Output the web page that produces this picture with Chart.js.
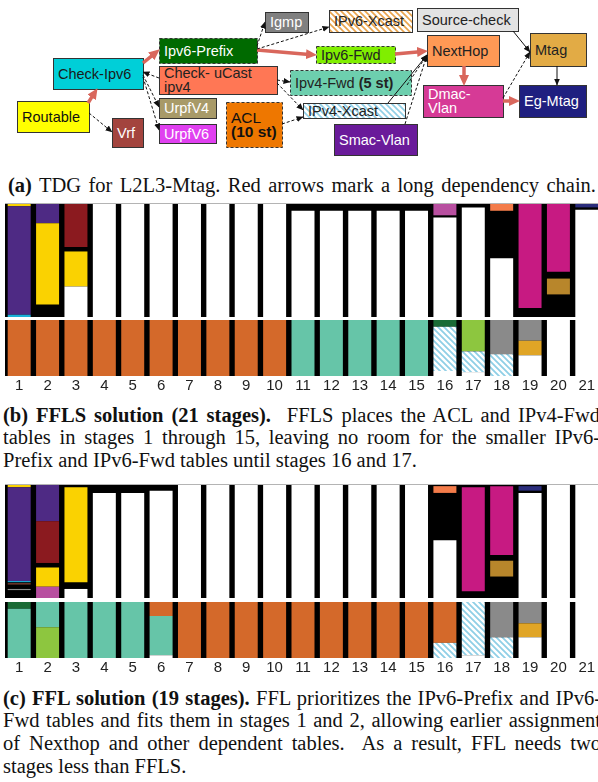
<!DOCTYPE html>
<html>
<head>
<meta charset="utf-8">
<script src="https://cdn.jsdelivr.net/npm/chart.js@4.4.1/dist/chart.umd.min.js"></script>
<style>
html, body { margin: 0; padding: 0; background: #fff; }
body { width: 598px; height: 782px; overflow: hidden; position: relative; }
.cap { position: absolute; font-family: 'Liberation Serif', 'Times New Roman', serif; font-size: 20.5px; line-height: 22.7px; color: #111; white-space: nowrap; }
.cap div { height: 22.7px; }
.cap .fit { display: inline-block; }
.rule { position: absolute; left: 5px; width: 593px; height: 1px; background: #b4b4b4; }
canvas { position: absolute; left: 5px; }
#tdg { position: absolute; left: 0; top: 0; }
</style>
</head>
<body>

<svg id="tdg" width="598" height="162"></svg>

<div class="cap" style="left:8px; top:173.6px">
  <div><span class="fit" data-w="588"><b>(a)</b> TDG for L2L3-Mtag. Red arrows mark a long dependency chain.</span></div>
</div>

<div class="rule" style="top:203px"></div>
<canvas id="fflsTop" width="596" height="113" style="top:204px"></canvas>
<canvas id="fflsBottom" width="596" height="76" style="top:320px"></canvas>

<div class="cap" style="left:3px; top:403.6px">
  <div><span class="fit" data-w="597"><b>(b) FFLS solution (21 stages).</b>&nbsp; FFLS places the ACL and IPv4-Fwd</span></div>
  <div><span class="fit" data-w="597">tables in stages 1 through 15, leaving no room for the smaller IPv6-</span></div>
  <div><span>Prefix and IPv6-Fwd tables until stages 16 and 17.</span></div>
</div>

<div class="rule" style="top:484px"></div>
<canvas id="fflTop" width="596" height="113" style="top:485px"></canvas>
<canvas id="fflBottom" width="596" height="76" style="top:602px"></canvas>

<div class="cap" style="left:3px; top:686.6px">
  <div><span class="fit" data-w="598"><b>(c) FFL solution (19 stages).</b> FFL prioritizes the IPv6-Prefix and IPv6-</span></div>
  <div><span class="fit" data-w="598">Fwd tables and fits them in stages 1 and 2, allowing earlier assignment</span></div>
  <div><span class="fit" data-w="598">of Nexthop and other dependent tables.&nbsp; As a result, FFL needs two</span></div>
  <div><span>stages less than FFLS.</span></div>
</div>

<script>
// Stage labels (x axis)
const stages = ['1', '2', '3', '4', '5', '6', '7', '8', '9', '10', '11',
                '12', '13', '14', '15', '16', '17', '18', '19', '20', '21'];

// Each stage: segments from bottom to top, as % of the stage's memory.
// 'free' = unused (white), 'gap' = unusable (black background)
const fflsTcam = [
    [['Check-Ipv6', 2], ['Smac-Vlan', 96], ['Routable', 2]],
    [['gap', 11], ['Routable', 72], ['Smac-Vlan', 17]],
    [['free', 27], ['Routable', 31], ['gap', 4], ['Vrf', 38]],
    [['free', 100]],
    [['free', 100]],
    [['free', 100]],
    [['free', 100]],
    [['free', 100]],
    [['free', 100]],
    [['free', 100]],
    [['free', 94], ['gap', 6]],
    [['free', 94], ['gap', 6]],
    [['free', 94], ['gap', 6]],
    [['free', 94], ['gap', 6]],
    [['free', 94], ['gap', 6]],
    [['free', 88], ['gap', 2], ['UrpfV6', 10]],
    [['free', 97], ['gap', 3]],
    [['free', 52], ['gap', 42], ['NextHop', 6]],
    [['gap', 8], ['Dmac-Vlan', 92]],
    [['gap', 20], ['Mtag', 14], ['gap', 6], ['Dmac-Vlan', 60]],
    [['free', 95], ['gap', 2], ['Eg-Mtag', 3]]
];

const fflsSram = [
    [['ACL', 100]],
    [['ACL', 100]],
    [['ACL', 100]],
    [['ACL', 100]],
    [['ACL', 100]],
    [['ACL', 100]],
    [['ACL', 100]],
    [['ACL', 100]],
    [['ACL', 100]],
    [['ACL', 100]],
    [['Ipv4-Fwd', 100]],
    [['Ipv4-Fwd', 100]],
    [['Ipv4-Fwd', 100]],
    [['Ipv4-Fwd', 100]],
    [['Ipv4-Fwd', 100]],
    [['free', 9], ['IPv4-Xcast', 79], ['Ipv6-Prefix', 12]],
    [['free', 7], ['IPv4-Xcast', 37], ['Ipv6-Fwd', 56]],
    [['IPv4-Xcast', 39], ['Igmp', 61]],
    [['free', 37], ['IPv6-Xcast', 26], ['Igmp', 37]],
    [['free', 100]],
    [['free', 100]]
];

const fflTcam = [
    [['gap', 7], ['Source-check', 1], ['gap', 4], ['Check-uCast', 1], ['gap', 1],
     ['Check-Ipv6', 1], ['Smac-Vlan', 83], ['Routable', 2]],
    [['UrpfV6', 10], ['Routable', 17], ['gap', 4], ['Vrf', 37], ['Smac-Vlan', 32]],
    [['free', 8], ['gap', 6], ['Routable', 84], ['gap', 2]],
    [['free', 93], ['gap', 7]],
    [['free', 93], ['gap', 7]],
    [['free', 95], ['gap', 5]],
    [['free', 100]],
    [['free', 100]],
    [['free', 100]],
    [['free', 100]],
    [['free', 100]],
    [['free', 100]],
    [['free', 100]],
    [['free', 100]],
    [['free', 100]],
    [['free', 51], ['gap', 42], ['NextHop', 6], ['gap', 1]],
    [['gap', 6], ['Dmac-Vlan', 92], ['gap', 2]],
    [['gap', 19], ['Mtag', 14], ['gap', 5], ['Dmac-Vlan', 61], ['gap', 1]],
    [['free', 93], ['gap', 2], ['Eg-Mtag', 4], ['gap', 1]],
    [['free', 100]],
    [['free', 100]]
];

const fflSram = [
    [['Ipv4-Fwd', 88], ['Ipv6-Prefix', 12]],
    [['Ipv6-Fwd', 55], ['Ipv4-Fwd', 45]],
    [['Ipv4-Fwd', 100]],
    [['Ipv4-Fwd', 100]],
    [['Ipv4-Fwd', 100]],
    [['free', 5], ['Ipv4-Fwd', 70], ['ACL', 25]],
    [['ACL', 100]],
    [['ACL', 100]],
    [['ACL', 100]],
    [['ACL', 100]],
    [['ACL', 100]],
    [['ACL', 100]],
    [['ACL', 100]],
    [['ACL', 100]],
    [['ACL', 100]],
    [['IPv4-Xcast', 27], ['ACL', 73]],
    [['free', 5], ['IPv4-Xcast', 95]],
    [['IPv4-Xcast', 37], ['Igmp', 63]],
    [['free', 37], ['IPv6-Xcast', 25], ['Igmp', 38]],
    [['free', 100]],
    [['free', 100]]
];

// hatched fill used for IPv4-Xcast in the bars
function hatch(color) {
    const c = document.createElement('canvas');
    c.width = 6; c.height = 6;
    const g = c.getContext('2d');
    g.fillStyle = '#fff';
    g.fillRect(0, 0, 6, 6);
    g.strokeStyle = color;
    g.lineWidth = 1.8;
    g.beginPath();
    g.moveTo(-1, -1); g.lineTo(7, 7);
    g.moveTo(-1, 5); g.lineTo(1, 7);
    g.moveTo(5, -1); g.lineTo(7, 1);
    g.stroke();
    return g.createPattern(c, 'repeat');
}

const tableColors = {
    'free': '#ffffff',
    'gap': 'rgba(0,0,0,0)',
    'Smac-Vlan': '#4e2a84',
    'Routable': '#fad201',
    'Vrf': '#8b1a1f',
    'Check-Ipv6': '#1ab0d8',
    'Check-uCast': '#9a4a3a',
    'Source-check': '#8c8c8c',
    'UrpfV6': '#b84fa0',
    'NextHop': '#f47c4a',
    'Dmac-Vlan': '#c71a82',
    'Mtag': '#b8862b',
    'Eg-Mtag': '#2b2d7c',
    'ACL': '#d4692a',
    'Ipv4-Fwd': '#66c5a8',
    'Ipv6-Prefix': '#1a6b35',
    'Ipv6-Fwd': '#8dc63f',
    'Igmp': '#8a8a8a',
    'IPv6-Xcast': '#e0a526',
    'IPv4-Xcast': hatch('#8fcfe6')
};

// stacked layers: layer k = k-th segment (from bottom) of every stage
function layers(stacks) {
    const n = Math.max(...stacks.map(s => s.length));
    const ds = [];
    for (let k = 0; k < n; k++) {
        ds.push({
            label: 'layer ' + k,
            data: stacks.map(s => s[k] ? s[k][1] : 0),
            backgroundColor: stacks.map(s => s[k] ? tableColors[s[k][0]] : 'rgba(0,0,0,0)'),
            borderWidth: 0,
            categoryPercentage: 1,
            barPercentage: 0.81
        });
    }
    return ds;
}

const blackBack = {
    id: 'blackBack',
    beforeDraw(chart) {
        const { ctx, chartArea: a } = chart;
        ctx.save();
        ctx.fillStyle = '#000';
        ctx.fillRect(a.left, a.top, a.right - a.left, a.bottom - a.top);
        ctx.restore();
    }
};

function makePanel(id, stacks, showTicks) {
    return new Chart(document.getElementById(id), {
        type: 'bar',
        data: { labels: stages, datasets: layers(stacks) },
        options: {
            responsive: false,
            animation: false,
            layout: { padding: 0 },
            plugins: { legend: { display: false }, tooltip: { enabled: false } },
            scales: {
                x: {
                    stacked: true,
                    display: showTicks,
                    grid: { display: false, drawTicks: false },
                    border: { display: false },
                    ticks: {
                        padding: 1,
                        autoSkip: false,
                        maxRotation: 0,
                        color: '#222',
                        font: { family: "'Liberation Sans', Arial, sans-serif", size: 15 }
                    }
                },
                y: { stacked: true, display: false, min: 0, max: 100 }
            }
        },
        plugins: [blackBack]
    });
}

makePanel('fflsTop', fflsTcam, false);
makePanel('fflsBottom', fflsSram, true);
makePanel('fflTop', fflTcam, false);
makePanel('fflBottom', fflSram, true);

// ---- (a) table dependency graph ----
const NS = 'http://www.w3.org/2000/svg';
const svg = document.getElementById('tdg');
function el(tag, attrs, parent) {
    const e = document.createElementNS(NS, tag);
    for (const k in attrs) e.setAttribute(k, attrs[k]);
    (parent || svg).appendChild(e);
    return e;
}

const defs = el('defs', {});
[['hatchBlue', '#8fcfe6'], ['hatchOrange', '#e9a44c']].forEach(([id, col]) => {
    const p = el('pattern', { id: id, width: 6, height: 6, patternUnits: 'userSpaceOnUse' }, defs);
    el('rect', { width: 6, height: 6, fill: '#fff' }, p);
    el('path', { d: 'M-1,-1 L7,7 M-1,5 L1,7 M5,-1 L7,1', stroke: col, 'stroke-width': 1.6 }, p);
});
const mr = el('marker', { id: 'arRed', markerWidth: 11, markerHeight: 10, refX: 10, refY: 5,
    orient: 'auto', markerUnits: 'userSpaceOnUse' }, defs);
el('path', { d: 'M0,0 L11,5 L0,10 z', fill: '#d9675c' }, mr);
const mb = el('marker', { id: 'arBlack', markerWidth: 7, markerHeight: 6, refX: 6.5, refY: 3,
    orient: 'auto', markerUnits: 'userSpaceOnUse' }, defs);
el('path', { d: 'M0,0 L7,3 L0,6 z', fill: '#111' }, mb);

// [x, y, w, h, fill, text colour, dashed, lines]
const nodes = [
    [265, 12, 43, 20, '#808080', '#fff', false, ['Igmp']],
    [329, 10, 83, 22, 'url(#hatchOrange)', '#222', false, ['IPv6-Xcast']],
    [417, 8, 101, 23, '#e3e3e3', '#222', false, ['Source-check']],
    [159, 38, 98, 25, '#006a00', '#fff', true, ['Ipv6-Prefix']],
    [316, 46, 79, 17, '#80ee00', '#222', true, ['Ipv6-Fwd']],
    [427, 35, 72, 31, '#ff9955', '#222', false, ['NextHop']],
    [530, 33, 56, 33, '#e2ab45', '#222', false, ['Mtag']],
    [53, 58, 90, 31, '#00cfd8', '#1a1a1a', false, ['Check-Ipv6']],
    [159, 66, 118, 28, '#ff7755', '#222', false, ['Check- uCast', 'ipv4']],
    [290, 70, 121, 25, '#6dcfae', '#222', true, ['Ipv4-Fwd |(5 st)']],
    [423, 85, 80, 32, '#d63a96', '#fff', false, ['Dmac-', 'Vlan']],
    [519, 85, 67, 32, '#1f1f80', '#fff', false, ['Eg-Mtag']],
    [159, 98, 57, 20, '#a89a68', '#fff', false, ['UrpfV4']],
    [17, 101, 72, 31, '#ffff00', '#111', false, ['Routable']],
    [226, 102, 56, 45, '#ee7700', '#111', true, ['ACL', '|(10 st)']],
    [303, 103, 102, 15, 'url(#hatchBlue)', '#222', false, ['IPv4-Xcast']],
    [112, 118, 31, 29, '#a3443e', '#fff', false, ['Vrf']],
    [159, 124, 57, 19, '#e040f0', '#fff', false, ['UrpfV6']],
    [334, 124, 83, 31, '#6a1b9a', '#fff', false, ['Smac-Vlan']]
];

// [x1, y1, x2, y2, kind]
const edges = [
    [88, 103, 97, 89, 'red'],
    [143, 63, 159, 50, 'red'],
    [257, 50, 316, 55, 'red'],
    [395, 54, 427, 51, 'red'],
    [464, 66, 464, 85, 'red'],
    [503, 101, 519, 101, 'red'],
    [257, 46, 265, 22, 'dash'],
    [257, 49, 329, 27, 'dash'],
    [159, 78, 143, 72, 'dash'],
    [143, 75, 159, 107, 'dash'],
    [143, 77, 159, 130, 'dash'],
    [89, 113, 112, 132, 'dash'],
    [277, 80, 290, 82, 'dash'],
    [277, 83, 303, 110, 'dash'],
    [282, 124, 303, 117, 'dash'],
    [407, 85, 427, 55, 'dash'],
    [388, 103, 427, 55, 'solid'],
    [405, 124, 427, 55, 'dash'],
    [503, 98, 530, 52, 'dash'],
    [513, 31, 530, 52, 'solid'],
    [557, 66, 557, 85, 'solid']
];

const font = "'Liberation Sans', Arial, sans-serif";
nodes.forEach(([x, y, w, h, fill, col, dashed, lines]) => {
    el('rect', { x: x + 0.5, y: y + 0.5, width: w, height: h, fill: fill, stroke: '#333',
        'stroke-width': 1, 'stroke-dasharray': dashed ? '3 2' : 'none' });
    const step = 14;
    const base = y + h / 2 + 5.2 - (lines.length - 1) * step / 2;
    lines.forEach((line, i) => {
        const t = el('text', { x: x + 5, y: base + i * step, fill: col,
            'font-family': font, 'font-size': lines.length > 1 && w < 70 ? 15.5 : 14.5 });
        const parts = line.split('|');
        parts.forEach((p, j) => {
            if (!p) return;
            const s = el('tspan', j > 0 ? { 'font-weight': 'bold' } : {}, t);
            s.textContent = p;
        });
    });
});

edges.forEach(([x1, y1, x2, y2, kind]) => {
    if (kind === 'red') {
        const len = Math.hypot(x2 - x1, y2 - y1);
        const k = (len - 7) / len;
        el('line', { x1: x1, y1: y1, x2: x1 + (x2 - x1) * k, y2: y1 + (y2 - y1) * k,
            stroke: '#d9675c', 'stroke-width': 3.5 });
        el('line', { x1: x2 - (x2 - x1) / len, y1: y2 - (y2 - y1) / len, x2: x2, y2: y2,
            stroke: 'none', 'marker-end': 'url(#arRed)' });
    } else {
        el('line', { x1: x1, y1: y1, x2: x2, y2: y2, stroke: '#111', 'stroke-width': 1,
            'stroke-dasharray': kind === 'dash' ? '3 2' : 'none', 'marker-end': 'url(#arBlack)' });
    }
});

// stretch justified caption lines to their measured widths
document.querySelectorAll('.cap .fit').forEach(s => {
    const target = +s.dataset.w;
    const spaces = (s.textContent.match(/[ \u00a0]/g) || []).length;
    const w = s.getBoundingClientRect().width;
    if (spaces) s.style.wordSpacing = ((target - w) / spaces) + 'px';
});
</script>
</body>
</html>
